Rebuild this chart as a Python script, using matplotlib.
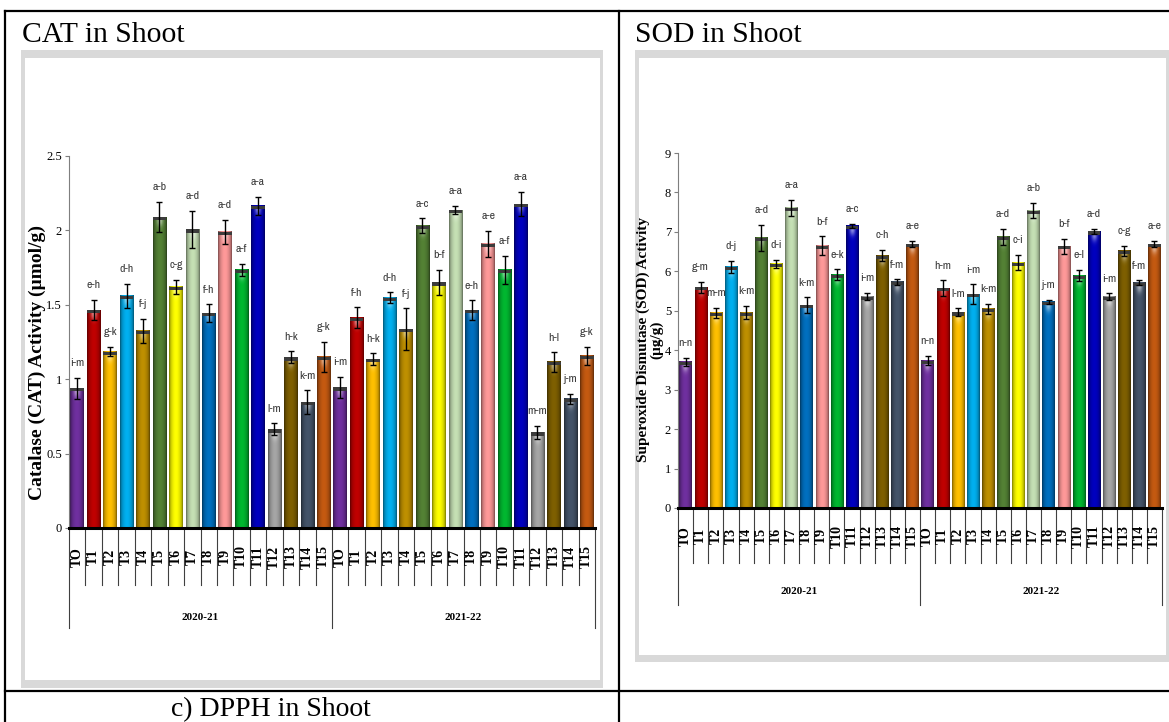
import matplotlib
matplotlib.use("Agg")
import matplotlib.pyplot as plt
import matplotlib.transforms as mtransforms
from matplotlib.patches import Rectangle
from matplotlib.lines import Line2D
from matplotlib import font_manager
from matplotlib.colors import to_rgb
import numpy as np

# ---------------- data ----------------
treatments = ["TO", "T1", "T2", "T3", "T4", "T5", "T6", "T7", "T8", "T9",
              "T10", "T11", "T12", "T13", "T14", "T15"]
years = ["2020-21", "2021-22"]
bar_colors = ["#7030A0", "#C00000", "#FFC000", "#00B0F0", "#BF9000", "#548235",
              "#FFFF00", "#C5E0B4", "#0070C0", "#FF9999", "#00B830", "#0000C0",
              "#A6A6A6", "#7F6000", "#44546A", "#C55A11"]

cat_2020 = [0.94, 1.465, 1.185, 1.56, 1.324, 2.09, 1.62, 2.007, 1.443, 1.99,
            1.734, 2.164, 0.663, 1.147, 0.845, 1.151]
cat_2020_err = [0.07, 0.07, 0.03, 0.08, 0.08, 0.10, 0.05, 0.125, 0.06, 0.08,
                0.04, 0.06, 0.04, 0.04, 0.08, 0.10]
cat_2020_letters = ["i-m", "e-h", "g-k", "d-h", "f-j", "a-b", "c-g", "a-d", "f-h", "a-d",
                    "a-f", "a-a", "l-m", "h-k", "k-m", "g-k"]
cat_2021 = [0.945, 1.413, 1.134, 1.548, 1.337, 2.03, 1.65, 2.137, 1.465, 1.909,
            1.734, 2.177, 0.643, 1.116, 0.867, 1.156]
cat_2021_err = [0.07, 0.07, 0.04, 0.035, 0.14, 0.05, 0.085, 0.03, 0.065, 0.09,
                0.095, 0.08, 0.045, 0.065, 0.035, 0.06]
cat_2021_letters = ["i-m", "f-h", "h-k", "d-h", "f-j", "a-c", "b-f", "a-a", "e-h", "a-e",
                    "a-f", "a-a", "m-m", "h-l", "j-m", "g-k"]
cat_yticks = [0, 0.5, 1, 1.5, 2, 2.5]
cat_ytick_labels = ["0", "0.5", "1", "1.5", "2", "2.5"]

sod_2020 = [3.71, 5.60, 4.95, 6.12, 4.95, 6.85, 6.19, 7.61, 5.14, 6.65,
            5.91, 7.16, 5.36, 6.40, 5.73, 6.69]
sod_2020_err = [0.10, 0.14, 0.13, 0.15, 0.17, 0.33, 0.10, 0.20, 0.20, 0.24,
                0.14, 0.05, 0.09, 0.14, 0.07, 0.08]
sod_2020_letters = ["n-n", "g-m", "m-m", "d-j", "k-m", "a-d", "d-i", "a-a", "k-m", "b-f",
                    "e-k", "a-c", "i-m", "c-h", "f-m", "a-e"]
sod_2021 = [3.735, 5.57, 4.96, 5.42, 5.05, 6.88, 6.22, 7.54, 5.23, 6.64,
            5.89, 7.01, 5.36, 6.52, 5.71, 6.69]
sod_2021_err = [0.12, 0.20, 0.10, 0.25, 0.12, 0.20, 0.19, 0.19, 0.05, 0.19,
                0.14, 0.07, 0.08, 0.13, 0.06, 0.08]
sod_2021_letters = ["n-n", "h-m", "l-m", "i-m", "k-m", "a-d", "c-i", "a-b", "j-m", "b-f",
                    "e-l", "a-d", "i-m", "c-g", "f-m", "a-e"]
sod_yticks = [0, 1, 2, 3, 4, 5, 6, 7, 8, 9]
sod_ytick_labels = ["0", "1", "2", "3", "4", "5", "6", "7", "8", "9"]

# ---------------- fonts ----------------
_fonts = font_manager.fontManager.ttflist
_names = {f.name for f in _fonts}
SERIF = "Liberation Serif" if "Liberation Serif" in _names else "DejaVu Serif"


def _pick_narrow():
    for key in ("Narrow", "Condensed"):
        for f in _fonts:
            if key in f.name and "Serif" not in f.name and "Mono" not in f.name \
                    and f.weight in (400, "normal", "regular") and f.style == "normal":
                return dict(family=f.name, stretch=f.stretch), True
    for f in _fonts:
        if str(f.stretch) in ("condensed", "semi-condensed", "extra-condensed") \
                and "Serif" not in f.name and "Mono" not in f.name and f.style == "normal":
            return dict(family=f.name, stretch=f.stretch), True
    return dict(family="Liberation Sans" if "Liberation Sans" in _names else "DejaVu Sans"), False


NARROW, _is_narrow = _pick_narrow()
LETTER_SIZE = 8.5 if _is_narrow else 7

W, H = 1169, 722
fig = plt.figure(figsize=(W / 100, H / 100), dpi=100)
fig.patch.set_facecolor("white")


def fx(px):
    return px / W


def fy(py):
    return 1 - py / H


def rect(x0, y0, x1, y1, color, z):
    fig.add_artist(Rectangle((fx(x0), fy(y1)), fx(x1) - fx(x0), fy(y0) - fy(y1),
                             transform=fig.transFigure, facecolor=color,
                             edgecolor="none", zorder=z))


def fline(xs, ys, lw=1.6):
    fig.add_artist(Line2D([fx(x) for x in xs], [fy(y) for y in ys],
                          transform=fig.transFigure, color="black", lw=lw,
                          zorder=-1))


# table lines
fline([5, 1169], [11, 11])
fline([5, 5], [11, 722])
fline([619, 619], [11, 722])
fline([5, 1169], [691, 691])

# panel frames (grey)
rect(21, 50, 603, 688, "#D9D9D9", -5)
rect(25, 58, 600, 680, "white", -4)
rect(635, 50, 1169, 662, "#D9D9D9", -5)
rect(639, 58, 1166, 655, "white", -4)

# titles
fig.text(fx(22), fy(42.5), "CAT in Shoot", fontsize=21.3, family=SERIF,
         ha="left", va="baseline")
fig.text(fx(635), fy(42.5), "SOD in Shoot", fontsize=21.3, family=SERIF,
         ha="left", va="baseline")
fig.text(fx(171), fy(716), "c) DPPH in Shoot", fontsize=20, family=SERIF,
         ha="left", va="baseline")


def draw_panel(box, vals, errs, letters, yticks, ytick_labels, ymax,
               sep_px, lab_px, year_px, grp_px, bar_w):
    x0, ytop, x1, ybot = box
    ax = fig.add_axes([fx(x0), fy(ybot), fx(x1) - fx(x0), fy(ytop) - fy(ybot)])
    ax.patch.set_alpha(0)
    ax_h = ybot - ytop
    n = len(vals)
    xs = np.arange(n)
    cols = [bar_colors[i % len(treatments)] for i in range(n)]
    bars = ax.bar(xs, vals, width=bar_w, color=cols, edgecolor="none", zorder=2)

    # glossy shading on each bar
    t = np.linspace(0, 1, 24)
    shade = 0.5 + 0.5 * np.sin(np.pi * t) ** 0.6
    glow_h = 14 * ymax / ax_h
    cap_h = 3.2 * ymax / ax_h
    for b, c in zip(bars, cols):
        rgb = np.array(to_rgb(c))
        arr = rgb[None, None, :] * shade[None, :, None]
        bx, bw, bh = b.get_x(), b.get_width(), b.get_height()
        ax.imshow(np.clip(arr, 0, 1), extent=[bx, bx + bw, 0, bh], aspect="auto",
                  interpolation="bilinear", zorder=2.1)
        s = np.linspace(0, 1, 12)[:, None]
        alpha = 0.55 * np.exp(-((t[None, :] - 0.5) / 0.22) ** 2) * np.exp(-(s / 0.45) ** 2)
        glow = np.zeros((12, 24, 4))
        glow[..., :3] = 1.0
        glow[..., 3] = alpha
        ax.imshow(glow, extent=[bx, bx + bw, bh - glow_h - cap_h, bh - cap_h],
                  aspect="auto", interpolation="bilinear", zorder=2.2)
    ax.bar(xs, [cap_h] * n, bottom=[v - cap_h for v in vals], width=bar_w,
           color="#3C3C3C", edgecolor="none", zorder=2.3)

    ax.errorbar(xs, vals, yerr=errs, fmt="none", ecolor="black", elinewidth=1,
                capsize=2.3, capthick=1, zorder=3)
    for xi, v, e, lab in zip(xs, vals, errs, letters):
        ax.annotate(lab, (xi, v + e), xytext=(0, 7), textcoords="offset points",
                    ha="center", va="bottom", fontsize=LETTER_SIZE, color="#3A3A3A",
                    **NARROW)

    ax.set_xlim(-0.5, n - 0.5)
    ax.set_ylim(0, ymax)
    ax.set_yticks(yticks)
    ax.set_yticklabels(ytick_labels, family=SERIF, fontsize=9)
    ax.set_xticks([])
    for sp in ("top", "right"):
        ax.spines[sp].set_visible(False)
    ax.spines["left"].set_color("#7F7F7F")
    ax.spines["left"].set_linewidth(0.8)
    ax.spines["bottom"].set_color("black")
    ax.spines["bottom"].set_linewidth(2.2)
    ax.spines["bottom"].set_zorder(4)
    ax.tick_params(axis="y", direction="out", length=3, width=0.8, color="#7F7F7F",
                   pad=2)

    trans = mtransforms.blended_transform_factory(ax.transData, ax.transAxes)
    ng = len(treatments)
    for k in range(n + 1):
        depth = grp_px if k % ng == 0 else sep_px
        ax.plot([k - 0.5, k - 0.5], [0, -depth / ax_h], transform=trans,
                color="#404040", lw=0.8, clip_on=False, zorder=1)
    for i in range(n):
        ax.text(i, -lab_px / ax_h, treatments[i % ng], transform=trans, rotation=90,
                ha="center", va="center", fontsize=10, fontweight="bold", family=SERIF)
    for g, yr in enumerate(years):
        ax.text(g * ng + (ng - 1) / 2, -year_px / ax_h, yr, transform=trans,
                ha="center", va="center", fontsize=8, fontweight="bold", family=SERIF)
    return ax


draw_panel((69, 156, 595, 528), cat_2020 + cat_2021, cat_2020_err + cat_2021_err,
           cat_2020_letters + cat_2021_letters, cat_yticks, cat_ytick_labels, 2.5,
           57, 29, 89, 100, 0.82)
draw_panel((678, 153, 1162, 508), sod_2020 + sod_2021, sod_2020_err + sod_2021_err,
           sod_2020_letters + sod_2021_letters, sod_yticks, sod_ytick_labels, 9,
           55, 28, 84, 97, 0.81)

fig.text(fx(37), fy(362), "Catalase (CAT) Activity (µmol/g)", rotation=90,
         ha="center", va="center", fontsize=14, fontweight="bold", family=SERIF)
fig.text(fx(650), fy(340), "Superoxide Dismutase (SOD) Activity\n(µg/g)", rotation=90,
         ha="center", va="center", multialignment="center", fontsize=11,
         fontweight="bold", family=SERIF, linespacing=0.95)

fig.savefig("out.png", dpi=100, facecolor="white")
